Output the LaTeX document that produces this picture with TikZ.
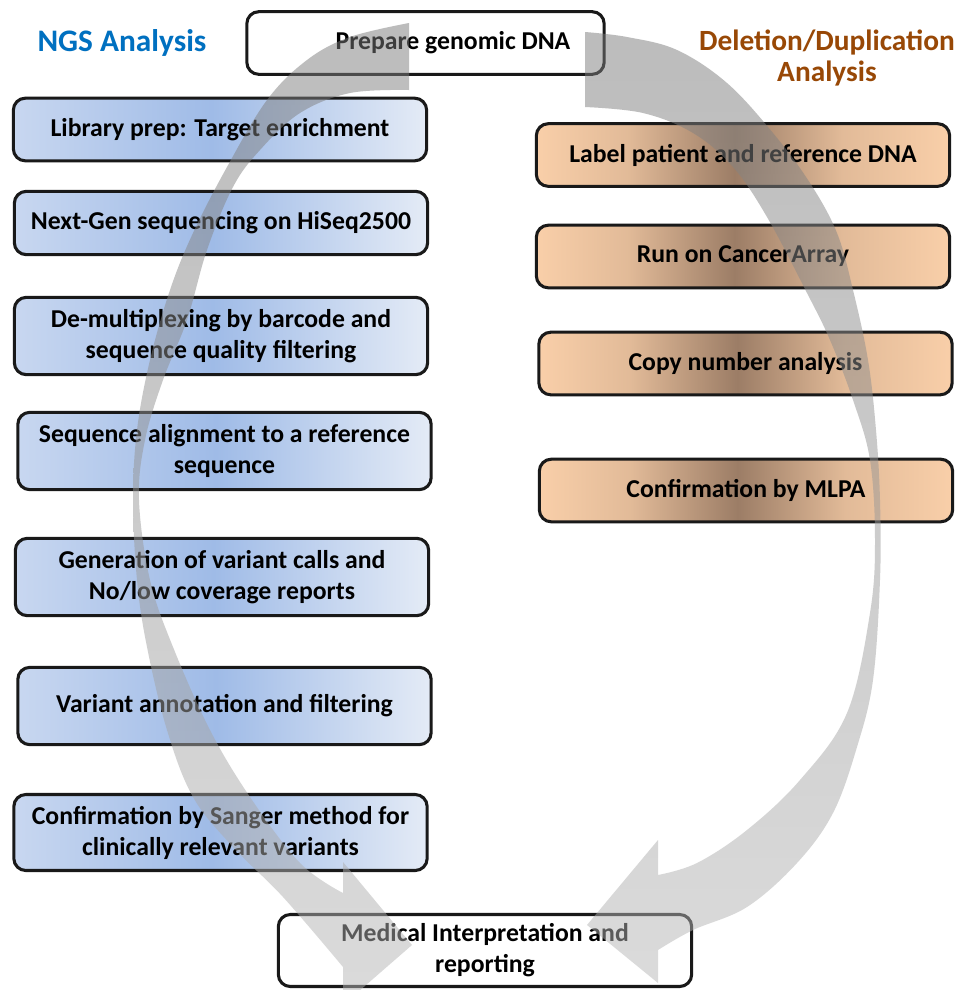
\documentclass[tikz,border=0pt]{standalone}
\usepackage{fontspec}
\setmainfont{Carlito}
\usepackage{tikz}
\usetikzlibrary{positioning}
\definecolor{ngsblue}{RGB}{0,112,192}
\definecolor{ddpbrown}{RGB}{152,72,6}
\definecolor{ngsedge}{RGB}{200,215,240}
\definecolor{ngsmid}{RGB}{159,187,231}
\definecolor{ngsright}{RGB}{228,235,246}
\definecolor{ddpedge}{RGB}{249,207,169}
\definecolor{ddpmid}{RGB}{156,125,102}
\pgfdeclarehorizontalshading{ngs shade}{100bp}{color(0bp)=(ngsedge); color(25bp)=(ngsedge); color(49bp)=(ngsmid); color(75bp)=(ngsright); color(100bp)=(ngsright)}
\pgfdeclarehorizontalshading{ddp shade}{100bp}{color(0bp)=(ddpedge); color(25bp)=(ddpedge); color(36bp)=(ddpedge!75!ddpmid); color(49bp)=(ddpmid); color(62bp)=(ddpedge!75!ddpmid); color(75bp)=(ddpedge); color(100bp)=(ddpedge)}
\tikzset{
    step box/.style={rectangle, rounded corners=9pt, draw=black!90, line width=2.3pt, align=center,
        minimum width=310pt, inner sep=2pt, font=\bfseries\fontsize{19.3}{23.25}\selectfont},
    ngs box/.style={step box, shading=ngs shade},
    ddp box/.style={step box, shading=ddp shade},
    end box/.style={step box, fill=white},
    heading/.style={align=center, font=\bfseries\fontsize{22}{23.25}\selectfont},
    big arrow/.style={top color=black!52, bottom color=black!28, opacity=0.5, draw=none}
}

\begin{document}
\begin{tikzpicture}[x=0.75pt, y=-0.75pt]
    \clip (0,0) rectangle (955,990);
    \fill[white] (0,0) rectangle (955,990);

    % Headings
    \node[heading, text=ngsblue, font=\bfseries\fontsize{23.5}{23.25}\selectfont] (ngs-title) at (122,43) {NGS Analysis};
    \node[heading, text=ddpbrown] (ddp-title) at (827,58) {Deletion/Duplication\\Analysis};

    % Start and end
    \node[end box, minimum width=268pt, minimum height=47pt] (prep) at (425.5,43) {};
    \node[font=\bfseries\fontsize{19.3}{23.25}\selectfont] (prep-text) at (453,43) {Prepare genomic DNA};
    \node[end box, minimum height=54pt] (report) at (485,950.5) {Medical Interpretation and\\reporting};

    % NGS column
    \foreach \x/\y/\h/\txt [count=\i] in {
        220/129.5/47/{Library prep: Target enrichment},
        221/223/47.5/{Next-Gen sequencing on HiSeq2500},
        221/336/58/{De-multiplexing by barcode and\\sequence quality filtering},
        224.5/451/58/{Sequence alignment to a reference\\sequence},
        222/577/58/{Generation of variant calls and\\No/low coverage reports},
        224.5/706/58/{Variant annotation and filtering},
        220.5/832.5/57/{Confirmation by Sanger method for\\clinically relevant variants}} {
        \node[ngs box, minimum height=\h pt] (L-\i) at (\x,\y) {\txt};
    }

    % Deletion/duplication column
    \foreach \x/\y/\txt [count=\i] in {
        743/155/{Label patient and reference DNA},
        743/256.5/{Run on CancerArray},
        745.5/363.5/{Copy number analysis},
        746/490.5/{Confirmation by MLPA}} {
        \node[ddp box, minimum height=47pt] (R-\i) at (\x,\y) {\txt};
    }

    % Left loop arrow
    \path[big arrow] plot[smooth, tension=0.6] coordinates {(409,23) (350,37) (307,60) (267,100) (227,167) (193,233)
            (170,290) (150,360) (137,430) (133,500) (137,580) (147,647) (167,730) (193,797) (233,847) (283,897) (343,967)}
        -- (343,1005) -- (412,945) -- (343,862) -- (343,893)
        -- plot[smooth, tension=0.6] coordinates {(343,893) (300,863) (250,797) (210,730) (173,647) (150,580) (139,500)
            (145,440) (163,380) (187,320) (207,250) (233,187) (260,150) (300,113) (350,93) (409,90)} -- cycle;

    % Right loop arrow
    \path[big arrow] plot[smooth, tension=0.6] coordinates {(585,32) (627,37) (677,50) (727,83) (773,133) (810,183)
            (837,233) (853,290) (868,360) (876,430) (880,500) (880,580) (873,680) (857,747) (833,813) (797,863)
            (747,907) (693,930) (658,950)}
        -- (658,983) -- (587,925) -- (658,840) -- (658,875)
        -- plot[smooth, tension=0.6] coordinates {(658,875) (697,863) (747,830) (800,780) (847,713) (870,613)
            (875,540) (870,460) (853,400) (830,340) (807,293) (767,217) (733,167) (693,133) (643,113) (585,107)} -- cycle;
\end{tikzpicture}
\end{document}
